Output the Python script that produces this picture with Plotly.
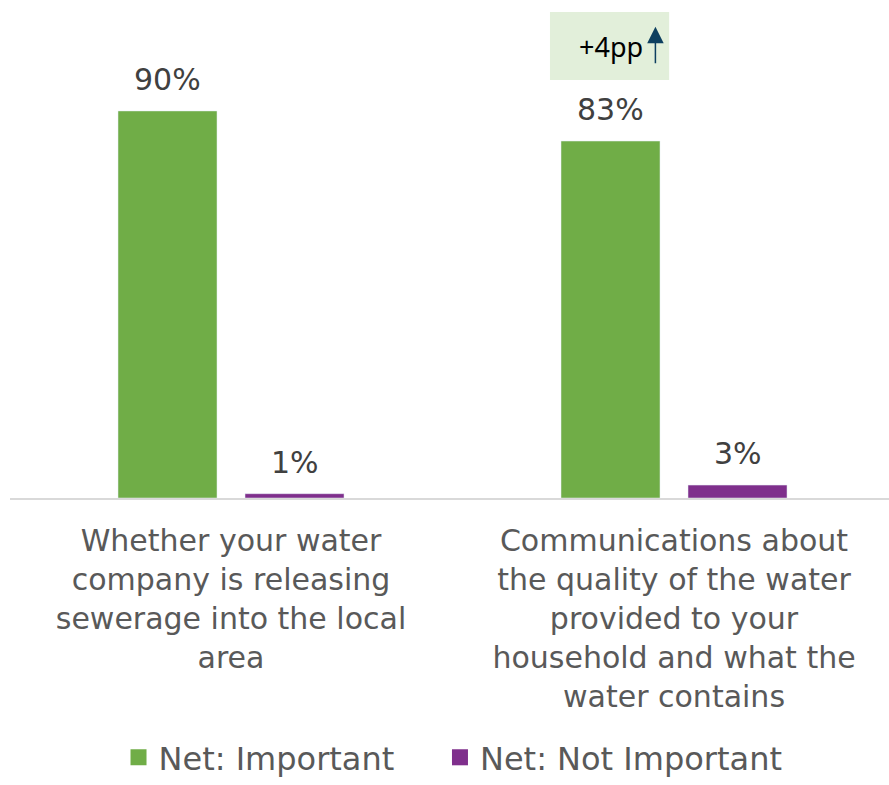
import plotly.graph_objects as go

# Survey results: share of respondents rating each topic
categories = [
    "Whether your water<br>company is releasing<br>sewerage into the local<br>area",
    "Communications about<br>the quality of the water<br>provided to your<br>household and what the<br>water contains",
]
series_names = ["Net: Important", "Net: Not Important"]
important = [90, 83]
not_important = [1, 3]
change_label = "+4pp"

green = "#70ad47"
purple = "#7f2f8c"
font_family = "DejaVu Sans"

x_idx = list(range(len(categories)))

fig = go.Figure()
fig.add_trace(go.Bar(x=x_idx, y=important, name=series_names[0],
                     marker_color=green, showlegend=False))
fig.add_trace(go.Bar(x=x_idx, y=not_important, name=series_names[1],
                     marker_color=purple, showlegend=False))

# legend entries with larger square swatches; non-breaking spaces widen the
# gap between the two entries
pads = ["\u00a0" * 4, ""]
for name, col, pad in zip(series_names, [green, purple], pads):
    fig.add_trace(go.Scatter(x=[None], y=[None], mode="markers", name=name + pad,
                             marker=dict(symbol="square", size=16, color=col)))

bargap = 0.4266
bargroupgap = 0.2205
slot = (1 - bargap) / 2
offsets = [-slot / 2, slot / 2]

annotations = []
for vals, off in zip([important, not_important], offsets):
    for i, v in enumerate(vals):
        annotations.append(dict(
            x=i + off, y=v, xref="x", yref="y", text=f"{v}%",
            showarrow=False, yanchor="bottom", yshift=12,
            font=dict(family=font_family, size=30, color="#404040")))

# change callout above the second category
annotations.append(dict(
    x=0.858, y=104.9, xref="x", yref="y", text=change_label, showarrow=False,
    font=dict(family="Noto Sans", size=27, color="#000000")))
annotations.append(dict(
    x=0.958, y=109.6, xref="x", yref="y", ax=0, ay=38, text="",
    showarrow=True, arrowhead=2, arrowsize=2.2, arrowwidth=1.5,
    arrowcolor="#0d3f5f"))

fig.update_layout(
    width=889, height=785,
    margin=dict(l=10, r=0, t=0, b=287, autoexpand=False),
    paper_bgcolor="white", plot_bgcolor="white",
    barmode="group", bargap=bargap, bargroupgap=bargroupgap,
    font=dict(family=font_family, color="#595959"),
    shapes=[dict(type="rect", xref="x", yref="y", x0=0.72, x1=0.989,
                 y0=97.2, y1=113.0, fillcolor="#e2efda", line_width=0,
                 layer="below")],
    annotations=annotations,
    legend=dict(orientation="h", x=0.504, xanchor="center", y=-0.5763,
                yanchor="bottom", font=dict(size=32, color="#595959"),
                itemwidth=30, borderwidth=0),
    xaxis=dict(range=[-0.4989, 1.4853], tickmode="array", tickvals=x_idx,
               ticktext=categories, showgrid=False, zeroline=False,
               showline=True, linecolor="#d9d9d9", linewidth=2,
               ticks="", ticklabelstandoff=15, automargin=False,
               tickfont=dict(size=30, color="#595959")),
    yaxis=dict(range=[0, 115.8], visible=False, automargin=False),
)

fig.write_html("out.html")
